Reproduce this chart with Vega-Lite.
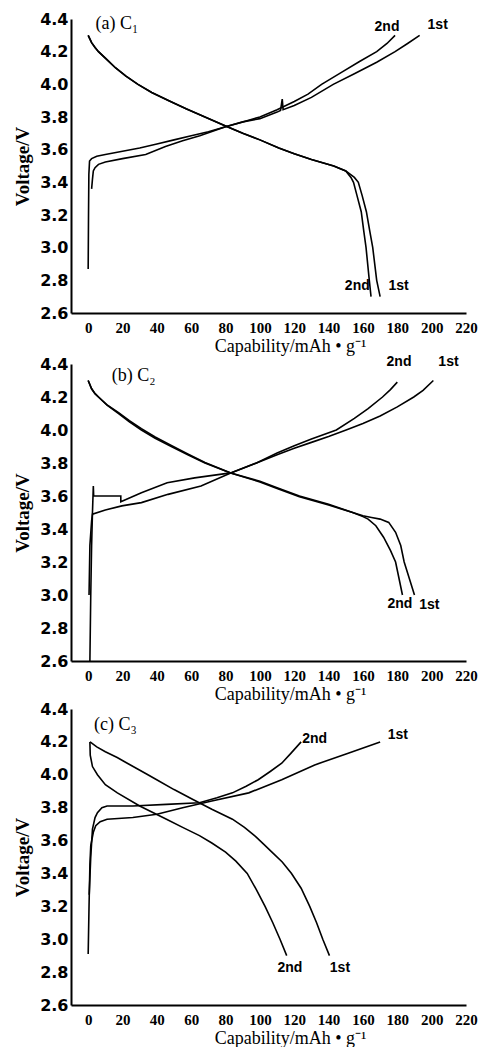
{
"$schema": "https://vega.github.io/schema/vega-lite/v6.json",
"padding": {"left": 13, "top": 11, "right": 0, "bottom": 0},
"background": "white",
"spacing": -2,
"datasets": {
"xt": [{"v":0,"m":1},{"v":10,"m":0},{"v":20,"m":1},{"v":30,"m":0},{"v":40,"m":1},{"v":50,"m":0},{"v":60,"m":1},{"v":70,"m":0},{"v":80,"m":1},{"v":90,"m":0},{"v":100,"m":1},{"v":110,"m":0},{"v":120,"m":1},{"v":130,"m":0},{"v":140,"m":1},{"v":150,"m":0},{"v":160,"m":1},{"v":170,"m":0},{"v":180,"m":1},{"v":190,"m":0},{"v":200,"m":1},{"v":210,"m":0},{"v":220,"m":1}],
"yt": [{"v":2.6,"m":1},{"v":2.7,"m":0},{"v":2.8,"m":1},{"v":2.9,"m":0},{"v":3.0,"m":1},{"v":3.1,"m":0},{"v":3.2,"m":1},{"v":3.3,"m":0},{"v":3.4,"m":1},{"v":3.5,"m":0},{"v":3.6,"m":1},{"v":3.7,"m":0},{"v":3.8,"m":1},{"v":3.9,"m":0},{"v":4.0,"m":1},{"v":4.1,"m":0},{"v":4.2,"m":1},{"v":4.3,"m":0},{"v":4.4,"m":1}],
"curves": [
{"p":"a","c":"d2","x":0,"y":4.30},{"p":"a","c":"d2","x":2,"y":4.255},{"p":"a","c":"d2","x":4,"y":4.225},{"p":"a","c":"d2","x":6,"y":4.20},{"p":"a","c":"d2","x":10,"y":4.16},{"p":"a","c":"d2","x":16,"y":4.10},{"p":"a","c":"d2","x":22,"y":4.05},{"p":"a","c":"d2","x":29,"y":4.00},{"p":"a","c":"d2","x":37,"y":3.95},{"p":"a","c":"d2","x":47,"y":3.90},{"p":"a","c":"d2","x":57,"y":3.85},{"p":"a","c":"d2","x":68,"y":3.80},{"p":"a","c":"d2","x":80,"y":3.745},{"p":"a","c":"d2","x":90,"y":3.70},{"p":"a","c":"d2","x":100,"y":3.66},{"p":"a","c":"d2","x":111,"y":3.61},{"p":"a","c":"d2","x":120,"y":3.575},{"p":"a","c":"d2","x":130,"y":3.54},{"p":"a","c":"d2","x":143,"y":3.50},{"p":"a","c":"d2","x":150,"y":3.47},{"p":"a","c":"d2","x":153,"y":3.43},{"p":"a","c":"d2","x":154.5,"y":3.40},{"p":"a","c":"d2","x":156.5,"y":3.32},{"p":"a","c":"d2","x":159,"y":3.22},{"p":"a","c":"d2","x":160.5,"y":3.10},{"p":"a","c":"d2","x":161.8,"y":3.00},{"p":"a","c":"d2","x":163.7,"y":2.80},{"p":"a","c":"d2","x":164.7,"y":2.70},
{"p":"a","c":"d1","x":0,"y":4.30},{"p":"a","c":"d1","x":2,"y":4.255},{"p":"a","c":"d1","x":4,"y":4.225},{"p":"a","c":"d1","x":6,"y":4.20},{"p":"a","c":"d1","x":10,"y":4.16},{"p":"a","c":"d1","x":16,"y":4.10},{"p":"a","c":"d1","x":22,"y":4.05},{"p":"a","c":"d1","x":29,"y":4.00},{"p":"a","c":"d1","x":37,"y":3.95},{"p":"a","c":"d1","x":47,"y":3.90},{"p":"a","c":"d1","x":57,"y":3.85},{"p":"a","c":"d1","x":68,"y":3.80},{"p":"a","c":"d1","x":80,"y":3.745},{"p":"a","c":"d1","x":90,"y":3.70},{"p":"a","c":"d1","x":100,"y":3.66},{"p":"a","c":"d1","x":111,"y":3.61},{"p":"a","c":"d1","x":120,"y":3.575},{"p":"a","c":"d1","x":130,"y":3.54},{"p":"a","c":"d1","x":143,"y":3.50},{"p":"a","c":"d1","x":150,"y":3.47},{"p":"a","c":"d1","x":152.5,"y":3.45},{"p":"a","c":"d1","x":155,"y":3.43},{"p":"a","c":"d1","x":157.3,"y":3.40},{"p":"a","c":"d1","x":159.5,"y":3.32},{"p":"a","c":"d1","x":162,"y":3.22},{"p":"a","c":"d1","x":164,"y":3.10},{"p":"a","c":"d1","x":165.7,"y":3.00},{"p":"a","c":"d1","x":168,"y":2.80},{"p":"a","c":"d1","x":170,"y":2.70},
{"p":"a","c":"c2","x":0,"y":2.87},{"p":"a","c":"c2","x":0.2,"y":3.2},{"p":"a","c":"c2","x":0.4,"y":3.45},{"p":"a","c":"c2","x":0.8,"y":3.53},{"p":"a","c":"c2","x":2,"y":3.545},{"p":"a","c":"c2","x":5,"y":3.56},{"p":"a","c":"c2","x":10,"y":3.57},{"p":"a","c":"c2","x":20,"y":3.59},{"p":"a","c":"c2","x":30,"y":3.61},{"p":"a","c":"c2","x":40,"y":3.635},{"p":"a","c":"c2","x":50,"y":3.66},{"p":"a","c":"c2","x":60,"y":3.685},{"p":"a","c":"c2","x":70,"y":3.71},{"p":"a","c":"c2","x":80,"y":3.74},{"p":"a","c":"c2","x":90,"y":3.77},{"p":"a","c":"c2","x":100,"y":3.80},{"p":"a","c":"c2","x":110,"y":3.845},{"p":"a","c":"c2","x":120,"y":3.895},{"p":"a","c":"c2","x":128,"y":3.94},{"p":"a","c":"c2","x":135.9,"y":4.0},{"p":"a","c":"c2","x":147,"y":4.07},{"p":"a","c":"c2","x":158,"y":4.14},{"p":"a","c":"c2","x":168,"y":4.2},{"p":"a","c":"c2","x":174,"y":4.25},{"p":"a","c":"c2","x":178.7,"y":4.3},
{"p":"a","c":"c1","x":2,"y":3.36},{"p":"a","c":"c1","x":2.5,"y":3.42},{"p":"a","c":"c1","x":3,"y":3.47},{"p":"a","c":"c1","x":4,"y":3.49},{"p":"a","c":"c1","x":6,"y":3.51},{"p":"a","c":"c1","x":10,"y":3.525},{"p":"a","c":"c1","x":20,"y":3.545},{"p":"a","c":"c1","x":33.5,"y":3.57},{"p":"a","c":"c1","x":45,"y":3.62},{"p":"a","c":"c1","x":55,"y":3.655},{"p":"a","c":"c1","x":65,"y":3.685},{"p":"a","c":"c1","x":80,"y":3.74},{"p":"a","c":"c1","x":90,"y":3.77},{"p":"a","c":"c1","x":100,"y":3.79},{"p":"a","c":"c1","x":110,"y":3.83},{"p":"a","c":"c1","x":112,"y":3.84},{"p":"a","c":"c1","x":113,"y":3.91},{"p":"a","c":"c1","x":113.5,"y":3.845},{"p":"a","c":"c1","x":120,"y":3.87},{"p":"a","c":"c1","x":130,"y":3.92},{"p":"a","c":"c1","x":142.7,"y":4.0},{"p":"a","c":"c1","x":155,"y":4.065},{"p":"a","c":"c1","x":168,"y":4.135},{"p":"a","c":"c1","x":178.7,"y":4.2},{"p":"a","c":"c1","x":186,"y":4.25},{"p":"a","c":"c1","x":193,"y":4.3},
{"p":"b","c":"d2","x":0,"y":4.30},{"p":"b","c":"d2","x":2,"y":4.25},{"p":"b","c":"d2","x":4,"y":4.22},{"p":"b","c":"d2","x":6,"y":4.20},{"p":"b","c":"d2","x":11,"y":4.15},{"p":"b","c":"d2","x":17.7,"y":4.10},{"p":"b","c":"d2","x":24,"y":4.05},{"p":"b","c":"d2","x":31,"y":4.00},{"p":"b","c":"d2","x":39,"y":3.95},{"p":"b","c":"d2","x":48.4,"y":3.90},{"p":"b","c":"d2","x":58,"y":3.85},{"p":"b","c":"d2","x":68,"y":3.80},{"p":"b","c":"d2","x":83,"y":3.74},{"p":"b","c":"d2","x":100,"y":3.69},{"p":"b","c":"d2","x":110,"y":3.65},{"p":"b","c":"d2","x":123,"y":3.60},{"p":"b","c":"d2","x":140,"y":3.55},{"p":"b","c":"d2","x":154,"y":3.50},{"p":"b","c":"d2","x":160,"y":3.475},{"p":"b","c":"d2","x":163,"y":3.46},{"p":"b","c":"d2","x":167.5,"y":3.42},{"p":"b","c":"d2","x":172,"y":3.35},{"p":"b","c":"d2","x":176,"y":3.27},{"p":"b","c":"d2","x":179,"y":3.20},{"p":"b","c":"d2","x":181,"y":3.10},{"p":"b","c":"d2","x":183,"y":3.00},
{"p":"b","c":"d1","x":0,"y":4.30},{"p":"b","c":"d1","x":2,"y":4.25},{"p":"b","c":"d1","x":4,"y":4.22},{"p":"b","c":"d1","x":6,"y":4.20},{"p":"b","c":"d1","x":11,"y":4.152},{"p":"b","c":"d1","x":17.7,"y":4.105},{"p":"b","c":"d1","x":24,"y":4.057},{"p":"b","c":"d1","x":31,"y":4.008},{"p":"b","c":"d1","x":39,"y":3.958},{"p":"b","c":"d1","x":48.4,"y":3.907},{"p":"b","c":"d1","x":58,"y":3.855},{"p":"b","c":"d1","x":68,"y":3.803},{"p":"b","c":"d1","x":83,"y":3.74},{"p":"b","c":"d1","x":100,"y":3.685},{"p":"b","c":"d1","x":110,"y":3.645},{"p":"b","c":"d1","x":123,"y":3.595},{"p":"b","c":"d1","x":140,"y":3.545},{"p":"b","c":"d1","x":154,"y":3.50},{"p":"b","c":"d1","x":160,"y":3.48},{"p":"b","c":"d1","x":165,"y":3.47},{"p":"b","c":"d1","x":170,"y":3.46},{"p":"b","c":"d1","x":175,"y":3.44},{"p":"b","c":"d1","x":179,"y":3.38},{"p":"b","c":"d1","x":182,"y":3.30},{"p":"b","c":"d1","x":184,"y":3.20},{"p":"b","c":"d1","x":187,"y":3.10},{"p":"b","c":"d1","x":190,"y":3.00},
{"p":"b","c":"c1","x":0.5,"y":3.0},{"p":"b","c":"c1","x":1,"y":3.3},{"p":"b","c":"c1","x":2,"y":3.45},{"p":"b","c":"c1","x":2.5,"y":3.49},{"p":"b","c":"c1","x":10,"y":3.515},{"p":"b","c":"c1","x":19.6,"y":3.54},{"p":"b","c":"c1","x":31,"y":3.56},{"p":"b","c":"c1","x":46.5,"y":3.61},{"p":"b","c":"c1","x":65.7,"y":3.66},{"p":"b","c":"c1","x":83,"y":3.74},{"p":"b","c":"c1","x":98,"y":3.80},{"p":"b","c":"c1","x":110,"y":3.85},{"p":"b","c":"c1","x":120,"y":3.89},{"p":"b","c":"c1","x":130,"y":3.925},{"p":"b","c":"c1","x":140,"y":3.96},{"p":"b","c":"c1","x":150.2,"y":4.0},{"p":"b","c":"c1","x":160,"y":4.04},{"p":"b","c":"c1","x":170,"y":4.085},{"p":"b","c":"c1","x":180,"y":4.14},{"p":"b","c":"c1","x":189.6,"y":4.2},{"p":"b","c":"c1","x":195,"y":4.24},{"p":"b","c":"c1","x":201,"y":4.3},
{"p":"b","c":"c2","x":1,"y":2.6},{"p":"b","c":"c2","x":1.5,"y":3.0},{"p":"b","c":"c2","x":2,"y":3.3},{"p":"b","c":"c2","x":2.5,"y":3.5},{"p":"b","c":"c2","x":3,"y":3.66},{"p":"b","c":"c2","x":3.2,"y":3.60},{"p":"b","c":"c2","x":19,"y":3.60},{"p":"b","c":"c2","x":19,"y":3.565},{"p":"b","c":"c2","x":31,"y":3.62},{"p":"b","c":"c2","x":46,"y":3.68},{"p":"b","c":"c2","x":62,"y":3.71},{"p":"b","c":"c2","x":83,"y":3.74},{"p":"b","c":"c2","x":98,"y":3.80},{"p":"b","c":"c2","x":110,"y":3.86},{"p":"b","c":"c2","x":120,"y":3.905},{"p":"b","c":"c2","x":130,"y":3.945},{"p":"b","c":"c2","x":144.5,"y":4.0},{"p":"b","c":"c2","x":155,"y":4.07},{"p":"b","c":"c2","x":163,"y":4.13},{"p":"b","c":"c2","x":171.4,"y":4.2},{"p":"b","c":"c2","x":176,"y":4.245},{"p":"b","c":"c2","x":180,"y":4.29},
{"p":"c","c":"d1","x":1.1,"y":4.20},{"p":"c","c":"d1","x":5,"y":4.17},{"p":"c","c":"d1","x":10,"y":4.14},{"p":"c","c":"d1","x":16.9,"y":4.105},{"p":"c","c":"d1","x":22,"y":4.075},{"p":"c","c":"d1","x":28,"y":4.04},{"p":"c","c":"d1","x":34,"y":4.005},{"p":"c","c":"d1","x":39.9,"y":3.97},{"p":"c","c":"d1","x":50,"y":3.91},{"p":"c","c":"d1","x":61,"y":3.85},{"p":"c","c":"d1","x":72,"y":3.79},{"p":"c","c":"d1","x":84,"y":3.73},{"p":"c","c":"d1","x":91,"y":3.68},{"p":"c","c":"d1","x":97.4,"y":3.625},{"p":"c","c":"d1","x":102,"y":3.58},{"p":"c","c":"d1","x":107,"y":3.53},{"p":"c","c":"d1","x":113,"y":3.47},{"p":"c","c":"d1","x":118.4,"y":3.40},{"p":"c","c":"d1","x":124,"y":3.31},{"p":"c","c":"d1","x":129,"y":3.20},{"p":"c","c":"d1","x":133,"y":3.10},{"p":"c","c":"d1","x":136.6,"y":3.00},{"p":"c","c":"d1","x":140.5,"y":2.90},
{"p":"c","c":"d2","x":1,"y":4.20},{"p":"c","c":"d2","x":1.2,"y":4.12},{"p":"c","c":"d2","x":2.5,"y":4.05},{"p":"c","c":"d2","x":5.4,"y":4.0},{"p":"c","c":"d2","x":10,"y":3.94},{"p":"c","c":"d2","x":17,"y":3.89},{"p":"c","c":"d2","x":30,"y":3.81},{"p":"c","c":"d2","x":45.6,"y":3.73},{"p":"c","c":"d2","x":55,"y":3.68},{"p":"c","c":"d2","x":64.8,"y":3.63},{"p":"c","c":"d2","x":72,"y":3.585},{"p":"c","c":"d2","x":80,"y":3.53},{"p":"c","c":"d2","x":86,"y":3.475},{"p":"c","c":"d2","x":92.6,"y":3.40},{"p":"c","c":"d2","x":98,"y":3.30},{"p":"c","c":"d2","x":103,"y":3.20},{"p":"c","c":"d2","x":107.5,"y":3.10},{"p":"c","c":"d2","x":111.7,"y":3.00},{"p":"c","c":"d2","x":115.6,"y":2.90},
{"p":"c","c":"c1","x":0,"y":2.91},{"p":"c","c":"c1","x":0.5,"y":3.2},{"p":"c","c":"c1","x":1,"y":3.45},{"p":"c","c":"c1","x":1.5,"y":3.57},{"p":"c","c":"c1","x":3,"y":3.65},{"p":"c","c":"c1","x":4.4,"y":3.69},{"p":"c","c":"c1","x":7,"y":3.715},{"p":"c","c":"c1","x":11,"y":3.73},{"p":"c","c":"c1","x":26,"y":3.74},{"p":"c","c":"c1","x":40,"y":3.76},{"p":"c","c":"c1","x":55,"y":3.80},{"p":"c","c":"c1","x":72,"y":3.84},{"p":"c","c":"c1","x":93.5,"y":3.89},{"p":"c","c":"c1","x":112.7,"y":3.97},{"p":"c","c":"c1","x":131.9,"y":4.06},{"p":"c","c":"c1","x":151,"y":4.13},{"p":"c","c":"c1","x":170,"y":4.20},
{"p":"c","c":"c2","x":0.6,"y":3.27},{"p":"c","c":"c2","x":1.5,"y":3.5},{"p":"c","c":"c2","x":2.5,"y":3.67},{"p":"c","c":"c2","x":4,"y":3.74},{"p":"c","c":"c2","x":5.4,"y":3.77},{"p":"c","c":"c2","x":8,"y":3.80},{"p":"c","c":"c2","x":11,"y":3.81},{"p":"c","c":"c2","x":26,"y":3.81},{"p":"c","c":"c2","x":45.6,"y":3.82},{"p":"c","c":"c2","x":64.8,"y":3.83},{"p":"c","c":"c2","x":75,"y":3.86},{"p":"c","c":"c2","x":84,"y":3.89},{"p":"c","c":"c2","x":92,"y":3.93},{"p":"c","c":"c2","x":99,"y":3.97},{"p":"c","c":"c2","x":106,"y":4.02},{"p":"c","c":"c2","x":112.7,"y":4.07},{"p":"c","c":"c2","x":118,"y":4.13},{"p":"c","c":"c2","x":124,"y":4.20}
],
"labels": [
{"p":"a","k":"curve","t":"2nd","x":174,"y":4.353},{"p":"a","k":"curve","t":"1st","x":203.5,"y":4.363},{"p":"a","k":"curve","t":"2nd","x":156.7,"y":2.764},{"p":"a","k":"curve","t":"1st","x":180.7,"y":2.764},
{"p":"b","k":"curve","t":"2nd","x":181,"y":4.41},{"p":"b","k":"curve","t":"1st","x":209.8,"y":4.41},{"p":"b","k":"curve","t":"2nd","x":181.5,"y":2.943},{"p":"b","k":"curve","t":"1st","x":198.6,"y":2.937},
{"p":"c","k":"curve","t":"2nd","x":131.9,"y":4.218},{"p":"c","k":"curve","t":"1st","x":180.3,"y":4.244},{"p":"c","k":"curve","t":"2nd","x":117.5,"y":2.827},{"p":"c","k":"curve","t":"1st","x":146.6,"y":2.827},
{"p":"a","k":"title","t":"(a) C₁","x":4.3,"y":4.367},{"p":"b","k":"title","t":"(b) C₂","x":13.8,"y":4.33},{"p":"c","k":"title","t":"(c) C₃","x":3.4,"y":4.305}
]
},
"config": {
"view": {"stroke": null},
"axis": {"grid": false, "ticks": false, "domainColor": "black", "domainWidth": 2, "labelColor": "black", "titleColor": "black", "labelOverlap": false, "labelBound": false, "labelFlush": false},
"axisX": {"values": [0,20,40,60,80,100,120,140,160,180,200,220], "labelPadding": 7, "labelFont": "Liberation Serif", "labelFontWeight": "bold", "labelFontSize": 15, "titleFont": "Liberation Serif", "titleFontSize": 18, "titleFontWeight": "normal", "titlePadding": 2, "titleX": 219},
"axisY": {"values": [2.6,2.8,3.0,3.2,3.4,3.6,3.8,4.0,4.2,4.4], "format": ".1f", "labelPadding": 3, "labelFont": "DejaVu Sans", "labelFontWeight": "bold", "labelFontSize": 16, "titleFont": "Liberation Serif", "titleFontSize": 19, "titleFontWeight": "bold", "titlePadding": 7},
"line": {"color": "black", "strokeWidth": 1.6},
"rule": {"color": "black", "strokeWidth": 1.5}
},
"vconcat": [
{"spacing": 0, "vconcat": [
{"width": 395, "height": 294,
 "encoding": {
   "x": {"field": "x", "type": "quantitative", "scale": {"domain": [-10, 220], "nice": false, "zero": false}, "axis": {"title": "Capability/mAh • g⁻¹"}},
   "y": {"field": "y", "type": "quantitative", "scale": {"domain": [2.6, 4.4], "nice": false, "zero": false}, "axis": {"title": "Voltage/V"}}},
 "layer": [
 {"data": {"name": "xt"}, "transform": [{"filter": "datum.m === 1"}], "mark": {"type": "rule"}, "encoding": {"x": {"field": "v", "type": "quantitative"}, "y": {"datum": 2.6}, "y2": {"datum": 2.635}}},
 {"data": {"name": "xt"}, "transform": [{"filter": "datum.m === 0"}], "mark": {"type": "rule"}, "encoding": {"x": {"field": "v", "type": "quantitative"}, "y": {"datum": 2.6}, "y2": {"datum": 2.62}}},
 {"data": {"name": "yt"}, "transform": [{"filter": "datum.m === 1"}], "mark": {"type": "rule"}, "encoding": {"y": {"field": "v", "type": "quantitative"}, "x": {"datum": -10}, "x2": {"datum": -6.5}}},
 {"data": {"name": "yt"}, "transform": [{"filter": "datum.m === 0"}], "mark": {"type": "rule"}, "encoding": {"y": {"field": "v", "type": "quantitative"}, "x": {"datum": -10}, "x2": {"datum": -8}}},
 {"data": {"name": "curves"}, "transform": [{"filter": "datum.p === 'a'"}], "mark": {"type": "line", "color": "black", "strokeWidth": 1.6},
  "encoding": {"detail": {"field": "c"}, "order": {"value": null}}},
 {"data": {"name": "labels"}, "transform": [{"filter": "datum.p === 'a' && datum.k === 'curve'"}], "mark": {"type": "text", "font": "Liberation Sans", "fontWeight": "bold", "fontSize": 14, "align": "center", "baseline": "middle", "color": "black"},
  "encoding": {"text": {"field": "t"}}},
 {"data": {"name": "labels"}, "transform": [{"filter": "datum.p === 'a' && datum.k === 'title'"}], "mark": {"type": "text", "font": "Liberation Serif", "fontSize": 18, "align": "left", "baseline": "middle", "color": "black"},
  "encoding": {"text": {"field": "t"}}}
]},
{"width": 395, "height": 297,
 "encoding": {
   "x": {"field": "x", "type": "quantitative", "scale": {"domain": [-10, 220], "nice": false, "zero": false}, "axis": {"title": "Capability/mAh • g⁻¹"}},
   "y": {"field": "y", "type": "quantitative", "scale": {"domain": [2.6, 4.4], "nice": false, "zero": false}, "axis": {"title": "Voltage/V"}}},
 "layer": [
 {"data": {"name": "xt"}, "transform": [{"filter": "datum.m === 1"}], "mark": {"type": "rule"}, "encoding": {"x": {"field": "v", "type": "quantitative"}, "y": {"datum": 2.6}, "y2": {"datum": 2.635}}},
 {"data": {"name": "xt"}, "transform": [{"filter": "datum.m === 0"}], "mark": {"type": "rule"}, "encoding": {"x": {"field": "v", "type": "quantitative"}, "y": {"datum": 2.6}, "y2": {"datum": 2.62}}},
 {"data": {"name": "yt"}, "transform": [{"filter": "datum.m === 1"}], "mark": {"type": "rule"}, "encoding": {"y": {"field": "v", "type": "quantitative"}, "x": {"datum": -10}, "x2": {"datum": -6.5}}},
 {"data": {"name": "yt"}, "transform": [{"filter": "datum.m === 0"}], "mark": {"type": "rule"}, "encoding": {"y": {"field": "v", "type": "quantitative"}, "x": {"datum": -10}, "x2": {"datum": -8}}},
 {"data": {"name": "curves"}, "transform": [{"filter": "datum.p === 'b'"}], "mark": {"type": "line", "color": "black", "strokeWidth": 1.6},
  "encoding": {"detail": {"field": "c"}, "order": {"value": null}}},
 {"data": {"name": "labels"}, "transform": [{"filter": "datum.p === 'b' && datum.k === 'curve'"}], "mark": {"type": "text", "font": "Liberation Sans", "fontWeight": "bold", "fontSize": 14, "align": "center", "baseline": "middle", "color": "black"},
  "encoding": {"text": {"field": "t"}}},
 {"data": {"name": "labels"}, "transform": [{"filter": "datum.p === 'b' && datum.k === 'title'"}], "mark": {"type": "text", "font": "Liberation Serif", "fontSize": 18, "align": "left", "baseline": "middle", "color": "black"},
  "encoding": {"text": {"field": "t"}}}
]}
]},
{"width": 395, "height": 296,
 "encoding": {
   "x": {"field": "x", "type": "quantitative", "scale": {"domain": [-10, 220], "nice": false, "zero": false}, "axis": {"title": "Capability/mAh • g⁻¹"}},
   "y": {"field": "y", "type": "quantitative", "scale": {"domain": [2.6, 4.4], "nice": false, "zero": false}, "axis": {"title": "Voltage/V"}}},
 "layer": [
 {"data": {"name": "xt"}, "transform": [{"filter": "datum.m === 1"}], "mark": {"type": "rule"}, "encoding": {"x": {"field": "v", "type": "quantitative"}, "y": {"datum": 2.6}, "y2": {"datum": 2.635}}},
 {"data": {"name": "xt"}, "transform": [{"filter": "datum.m === 0"}], "mark": {"type": "rule"}, "encoding": {"x": {"field": "v", "type": "quantitative"}, "y": {"datum": 2.6}, "y2": {"datum": 2.62}}},
 {"data": {"name": "yt"}, "transform": [{"filter": "datum.m === 1"}], "mark": {"type": "rule"}, "encoding": {"y": {"field": "v", "type": "quantitative"}, "x": {"datum": -10}, "x2": {"datum": -6.5}}},
 {"data": {"name": "yt"}, "transform": [{"filter": "datum.m === 0"}], "mark": {"type": "rule"}, "encoding": {"y": {"field": "v", "type": "quantitative"}, "x": {"datum": -10}, "x2": {"datum": -8}}},
 {"data": {"name": "curves"}, "transform": [{"filter": "datum.p === 'c'"}], "mark": {"type": "line", "color": "black", "strokeWidth": 1.6},
  "encoding": {"detail": {"field": "c"}, "order": {"value": null}}},
 {"data": {"name": "labels"}, "transform": [{"filter": "datum.p === 'c' && datum.k === 'curve'"}], "mark": {"type": "text", "font": "Liberation Sans", "fontWeight": "bold", "fontSize": 14, "align": "center", "baseline": "middle", "color": "black"},
  "encoding": {"text": {"field": "t"}}},
 {"data": {"name": "labels"}, "transform": [{"filter": "datum.p === 'c' && datum.k === 'title'"}], "mark": {"type": "text", "font": "Liberation Serif", "fontSize": 18, "align": "left", "baseline": "middle", "color": "black"},
  "encoding": {"text": {"field": "t"}}}
]}
]
}
